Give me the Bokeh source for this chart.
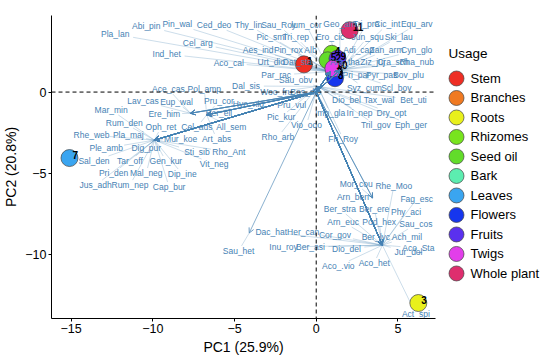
import numpy as np
from bokeh.plotting import figure
from bokeh.models import (Arrow, OpenHead, ColumnDataSource, Span, Range1d,
                          FixedTicker)
from bokeh.layouts import row
from bokeh.embed import file_html
from bokeh.resources import INLINE
from bokeh.core.properties import value

FONT = value("Liberation Sans")

# ---------------- individuals (groups by usage) ----------------
usage = ["Stem", "Branches", "Roots", "Rhizomes", "Seed oil", "Bark",
         "Leaves", "Flowers", "Fruits", "Twigs", "Whole plant"]
usage_colors = ["#EE2E24", "#F07A22", "#E8F01C", "#78E41E", "#62DC2A",
                "#5CEDB0", "#3AA5F0", "#1636EE", "#5A30EE", "#E23EEA",
                "#DE2E6E"]
ind_id = ["1", "2", "3", "4", "5", "6", "7", "8", "9", "10", "11"]
ind_pc1 = [-0.75, 1.00, 6.25, 0.95, 0.70, 1.10, -15.10, 1.15, 1.30, 1.05, 2.05]
ind_pc2 = [1.70, 1.90, -12.95, 2.35, 1.95, 1.20, -4.05, 0.85, 2.05, 1.45, 3.80]

# ---------------- variables (species) ----------------
var_names = [
    "Pla_lan", "Abi_pin", "Pin_wal", "Ced_deo", "Thy_lin", "Sau_Roy", "lum_cor",
    "Cel_arg", "Pic_smi", "Tri_rep", "Ind_het", "Aes_ind", "Pin_rox", "Alb",
    "Aco_cal", "Urt_dio", "Dat_sta", "Par_rac", "Sau_obv",
    "Geo_arn", "Tri_pra", "Cic_int", "Equ_arv", "Ero_cic", "Jun_squ", "Ski_lau",
    "Adi_cap", "Zan_arm", "Cyn_glo", "Ara_tha", "Ziz_juj", "Cra_sch", "Rha_nub",
    "Pri_par", "Pyr_pas", "Bov_plu", "Syz_cum", "Scl_bov",
    "Dal_sis", "Woo_fru", "Bos_dip", "Pru_vul", "Pic_kur", "Vio_odo", "Rho_arb",
    "Dio_bel", "Tax_wal", "Bet_uti", "Imp_gla", "Iri_nep", "Dry_opt", "Tril_gov",
    "Eph_ger", "Fri_Roy", "Hyo_nig",
    "Ace_cas", "Lav_cas", "Eup_wal", "Ere_him", "Mar_min",
    "Pol_amp", "Pru_cor", "Ber_ell", "Cel_aus", "All_sem", "Art_abs",
    "Rum_den", "Oph_ret", "Rhe_web", "Pla_maj", "Mur_koe", "Ple_amb", "Dig_pur",
    "Sti_sib", "Rho_Ant", "Sal_den", "Tar_off", "Gen_kur", "Vit_neg", "Pri_den",
    "Mal_neg", "Dip_ine", "Jus_adh", "Rum_nep", "Cap_bur",
    "Mor_cou", "Arn_ben",
    "Rhe_Moo", "Fag_esc", "Ber_stra", "Ber_ere", "Phy_aci", "Arn_euc", "Pod_hex",
    "Sau_cos", "Dac_hat", "Her_can", "Cor_gov", "Ber_lyc", "Ach_mil", "Inu_roy",
    "Ber_asi", "Dio_del", "Aco_Sta", "Jur_dol", "Aco_.vio", "Aco_het", "Act_spi",
    "Sau_het",
]
# loadings (arrow tips)
var_pc1 = (
    [0.85] * 18 + [0.10]
    + [1.45] * 19
    + [0.10] * 16 + [-6.70]
    + [-7.70] * 4 + [-9.90]
    + [-6.70] * 6
    + [-9.90] * 19
    + [3.45] * 2
    + [4.05] * 21
    + [-4.10]
)
var_pc2 = (
    [1.25] * 18 + [0.35]
    + [1.35] * 19
    + [0.35] * 16 + [-1.40]
    + [-1.30] * 4 + [-2.95]
    + [-1.40] * 6
    + [-2.95] * 19
    + [-6.50] * 2
    + [-9.40] * 21
    + [-8.65]
)
# label positions (repelled)
lab_pc1 = [
    -12.30, -10.40, -8.50, -6.25, -4.15, -2.30, -0.60,
    -7.25, -2.75, -1.25, -9.15, -3.55, -1.70, -0.35,
    -5.35, -2.75, -1.15, -2.45, -1.25,
    1.45, 3.05, 4.35, 6.15, 0.85, 3.15, 5.05,
    2.60, 4.30, 6.15, 1.75, 3.45, 4.70, 6.15,
    2.45, 4.00, 5.65, 2.95, 4.90,
    -4.30, -2.45, -0.65, -1.50, -2.15, -0.60, -2.35,
    1.85, 3.85, 5.95, 0.85, 2.65, 4.60, 3.65,
    5.80, 1.65, -4.15,
    -9.05, -10.60, -8.55, -9.30, -12.55,
    -6.85, -5.95, -5.95, -7.30, -5.20, -6.10,
    -11.75, -9.50, -13.75, -11.50, -8.30, -12.85, -10.40,
    -7.30, -5.35, -13.60, -11.40, -9.20, -6.25, -12.40,
    -10.40, -8.20, -13.50, -11.40, -9.00,
    2.45, 2.25,
    4.75, 6.15, 1.45, 3.55, 5.50, 1.65, 3.85,
    6.10, -2.75, -0.80, 1.15, 3.65, 5.55, -2.00,
    -0.35, 1.85, 6.25, 5.65, 1.35, 3.55, 6.10,
    -4.75,
]
lab_pc2 = [
    3.55, 4.05, 4.15, 4.10, 4.10, 4.10, 4.10,
    3.00, 3.37, 3.37, 2.33, 2.58, 2.58, 2.58,
    1.78, 1.84, 1.84, 1.04, 0.74,
    4.15, 4.15, 4.15, 4.15, 3.37, 3.37, 3.37,
    2.58, 2.58, 2.58, 1.84, 1.84, 1.84, 1.84,
    1.04, 1.04, 1.04, 0.25, 0.25,
    0.37, 0.00, 0.00, -0.80, -1.53, -2.02, -2.76,
    -0.49, -0.49, -0.49, -1.29, -1.29, -1.29, -2.02,
    -2.02, -2.88, -0.74,
    0.18, -0.55, -0.61, -1.35, -1.10,
    0.18, -0.55, -1.29, -2.15, -2.15, -2.88,
    -1.90, -2.15, -2.64, -2.64, -2.88, -3.44, -3.44,
    -3.68, -3.68, -4.23, -4.23, -4.23, -4.42, -4.97,
    -4.97, -5.03, -5.71, -5.71, -5.83,
    -5.64, -6.44,
    -5.77, -6.56, -7.18, -7.18, -7.36, -7.98, -7.98,
    -8.10, -8.59, -8.59, -8.77, -8.90, -8.90, -9.51,
    -9.51, -9.63, -9.57, -9.82, -10.67, -10.49, -13.62,
    -9.75,
]

x_ticks = [-15, -10, -5, 0, 5]
y_ticks = [-10, -5, 0]

BLUE = "#4682B4"
X0, X1 = -16.2, 7.3
Y0, Y1 = -13.9, 4.7
W, H = 442, 357
BL, BR, BT, BB = 47, 7, 15, 39

p = figure(width=W, height=H, output_backend="svg", toolbar_location=None,
           x_range=Range1d(X0, X1), y_range=Range1d(Y0, Y1),
           min_border_left=BL, min_border_right=BR, min_border_top=BT,
           min_border_bottom=BB)
p.outline_line_color = None
p.grid.visible = False
p.background_fill_color = "white"

for ax, lab, ticks in ((p.xaxis, "PC1 (25.9%)", x_ticks),
                       (p.yaxis, "PC2 (20.8%)", y_ticks)):
    ax.axis_label = lab
    ax.ticker = FixedTicker(ticks=ticks)
    ax.minor_tick_line_color = None
    ax.major_tick_in = 0
    ax.major_tick_out = 3
    ax.major_label_standoff = 2
    ax.axis_label_standoff = 3
    ax.axis_line_color = "black"
    ax.major_tick_line_color = "black"
    ax.major_label_text_color = "black"
    ax.major_label_text_font = "Liberation Sans"
    ax.major_label_text_font_size = "12.5px"
    ax.axis_label_text_font = "Liberation Sans"
    ax.axis_label_text_font_size = "14px"
    ax.axis_label_text_font_style = "normal"
    ax.axis_label_text_color = "black"

p.add_layout(Span(location=0, dimension="width", line_color="black",
                  line_dash="4 3", line_width=1))
p.add_layout(Span(location=0, dimension="height", line_color="black",
                  line_dash="4 3", line_width=1))

# arrows from origin
n = len(var_names)
arrow_src = ColumnDataSource(dict(x0=[0.0] * n, y0=[0.0] * n,
                                  x1=var_pc1, y1=var_pc2))
p.add_layout(Arrow(source=arrow_src, x_start="x0", y_start="y0",
                   x_end="x1", y_end="y1", line_color=BLUE, line_width=0.8,
                   line_alpha=0.8,
                   end=OpenHead(size=5, line_color=BLUE, line_width=0.8)))

# connector segments between tips and labels (clipped at label box)
fw = W - BL - BR
fh = H - BT - BB
sx = fw / (X1 - X0)
sy = fh / (Y1 - Y0)
tx, ty = np.array(var_pc1), np.array(var_pc2)
lx, ly = np.array(lab_pc1), np.array(lab_pc2)
dxp = (tx - lx) * sx
dyp = (ty - ly) * sy
hw = np.array([len(s) * 2.3 + 2 for s in var_names])
hh = 5.0
with np.errstate(divide="ignore"):
    t = np.minimum(np.where(np.abs(dxp) > 0, hw / np.abs(dxp), np.inf),
                   np.where(np.abs(dyp) > 0, hh / np.abs(dyp), np.inf))
keep = t < 1
ex = lx + t * (tx - lx)
ey = ly + t * (ty - ly)
p.segment(x0=tx[keep], y0=ty[keep], x1=ex[keep], y1=ey[keep],
          line_color=BLUE, line_width=0.5, line_alpha=0.55)

# individuals
ind_src = ColumnDataSource(dict(x=ind_pc1, y=ind_pc2, c=usage_colors,
                                id=ind_id, u=usage))
p.scatter("x", "y", source=ind_src, size=17, fill_color="c",
          line_color="#444444", line_width=0.7)
p.text("x", "y", text="id", source=ind_src, text_font=FONT,
       text_font_size="10px", text_font_style="bold", text_color="black",
       x_offset=3, y_offset=-3, text_align="left", text_baseline="middle")

# variable labels
lab_src = ColumnDataSource(dict(x=lab_pc1, y=lab_pc2, t=var_names))
p.text("x", "y", text="t", source=lab_src, text_font=FONT,
       text_font_size="8.5px", text_color=BLUE, text_align="center",
       text_baseline="middle")

# ---------------- legend panel (frame aligned with main frame) ----------------
LW = 540 - W
lg = figure(width=LW, height=H, output_backend="svg", toolbar_location=None,
            x_range=Range1d(0, LW), y_range=Range1d(-12.31, 3.23),
            min_border=0, x_axis_location=None, y_axis_location=None)
lg.grid.visible = False
lg.outline_line_color = None
leg_y = [-i for i in range(len(usage))]
leg_src = ColumnDataSource(dict(y=leg_y, c=usage_colors, u=usage,
                                x=[14] * len(usage)))
lg.scatter("x", "y", source=leg_src, size=15, fill_color="c",
           line_color="#444444", line_width=0.7)
lg.text("x", "y", text="u", source=leg_src, x_offset=14, text_font=FONT,
        text_font_size="13px", text_color="black", text_align="left",
        text_baseline="middle")
lg.text(x=[6], y=[1.28], text=["Usage"], text_font=FONT,
        text_font_size="13.5px", text_color="black", text_align="left",
        text_baseline="middle")

layout = row(p, lg)
open("out.html", "w").write(file_html(layout, INLINE))
